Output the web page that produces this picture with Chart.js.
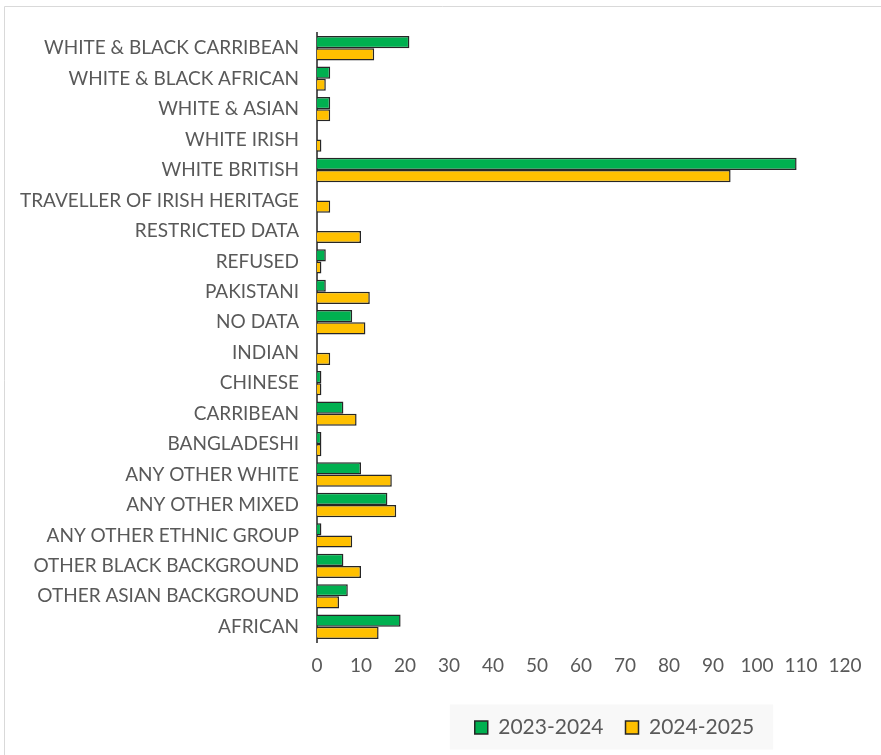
<!DOCTYPE html>
<html>
<head>
<meta charset="utf-8">
<script src="https://cdn.jsdelivr.net/npm/chart.js@4"></script>
<style>
  html, body { margin: 0; padding: 0; background: #fff; }
  #wrap { position: relative; width: 881px; height: 755px; }
</style>
</head>
<body>
<div id="wrap"><canvas id="myChart" width="881" height="755"></canvas></div>
<script>
// categories top to bottom
let categories = [
  "WHITE & BLACK CARRIBEAN", "WHITE & BLACK AFRICAN", "WHITE & ASIAN", "WHITE IRISH",
  "WHITE BRITISH", "TRAVELLER OF IRISH HERITAGE", "RESTRICTED DATA", "REFUSED",
  "PAKISTANI", "NO DATA", "INDIAN", "CHINESE", "CARRIBEAN", "BANGLADESHI",
  "ANY OTHER WHITE", "ANY OTHER MIXED", "ANY OTHER ETHNIC GROUP",
  "OTHER BLACK BACKGROUND", "OTHER ASIAN BACKGROUND", "AFRICAN"
];
let series1Name = "2023-2024";
let series2Name = "2024-2025";
let values2023 = [21, 3, 3, 0, 109, 0, 0, 2, 2, 8, 0, 1, 6, 1, 10, 16, 1, 6, 7, 19];
let values2024 = [13, 2, 3, 1, 94, 3, 10, 1, 12, 11, 3, 1, 9, 1, 17, 18, 8, 10, 5, 14];
let xTicks = [0, 10, 20, 30, 40, 50, 60, 70, 80, 90, 100, 110, 120];

//legende decalee vers la droite, fond gris + cadre
let decor = {
  id: 'decor',
  afterLayout(chart) {
    let lg = chart.legend;
    lg.left += 190;
    lg.right += 190;
  },
  beforeDraw(chart) {
    let ctx = chart.ctx;
    ctx.save();
    ctx.strokeStyle = '#d9d9d9';
    ctx.lineWidth = 1;
    ctx.beginPath();
    ctx.moveTo(4.5, 755);
    ctx.lineTo(4.5, 6.5);
    ctx.lineTo(881, 6.5);
    ctx.stroke();
    let lg = chart.legend;
    let w = (lg.lineWidths && lg.lineWidths[0]) || 300;
    let center = (lg.left + lg.right) / 2;
    let mid = lg.top + lg.height / 2;
    ctx.fillStyle = '#f8f8f8';
    ctx.fillRect(center - w / 2 - 14, mid - 17, w + 22, 45);
    ctx.restore();
  }
};

let ctx = document.getElementById('myChart').getContext('2d');
new Chart(ctx, {
  type: 'bar',
  data: {
    labels: categories,
    datasets: [{
      label: series1Name,
      data: values2023,
      backgroundColor: '#00b050',
      borderColor: '#262626',
      borderWidth: 1.5
    }, {
      label: series2Name,
      data: values2024,
      backgroundColor: '#ffc000',
      borderColor: '#262626',
      borderWidth: 1.5
    }]
  },
  plugins: [decor],
  options: {
    indexAxis: 'y',
    responsive: false,
    animation: false,
    datasets: { bar: { categoryPercentage: 0.8, barPercentage: 1 } },
    layout: { padding: { top: 33, right: 36, bottom: 7, left: 4 } },
    plugins: {
      legend: {
        position: 'bottom',
        labels: {
          color: '#595959',
          font: { family: 'Lato', size: 21 },
          boxWidth: 13,
          boxHeight: 13,
          padding: 22
        }
      },
      tooltip: { enabled: false }
    },
    scales: {
      x: {
        min: 0,
        max: 120,
        afterBuildTicks: (scale) => { scale.ticks = xTicks.map(v => ({ value: v })); },
        afterFit: (scale) => { scale.height = 53; },
        grid: { display: false, drawTicks: false },
        border: { display: false },
        ticks: { color: '#595959', font: { family: 'Lato', size: 19 }, padding: 12 }
      },
      y: {
        afterFit: (scale) => { scale.width = 313; },
        grid: { display: false, drawTicks: false },
        border: { display: true, color: '#595959', width: 2 },
        ticks: { color: '#595959', font: { family: 'Lato', size: 19 }, padding: 18, autoSkip: false }
      }
    }
  }
});
</script>
</body>
</html>
